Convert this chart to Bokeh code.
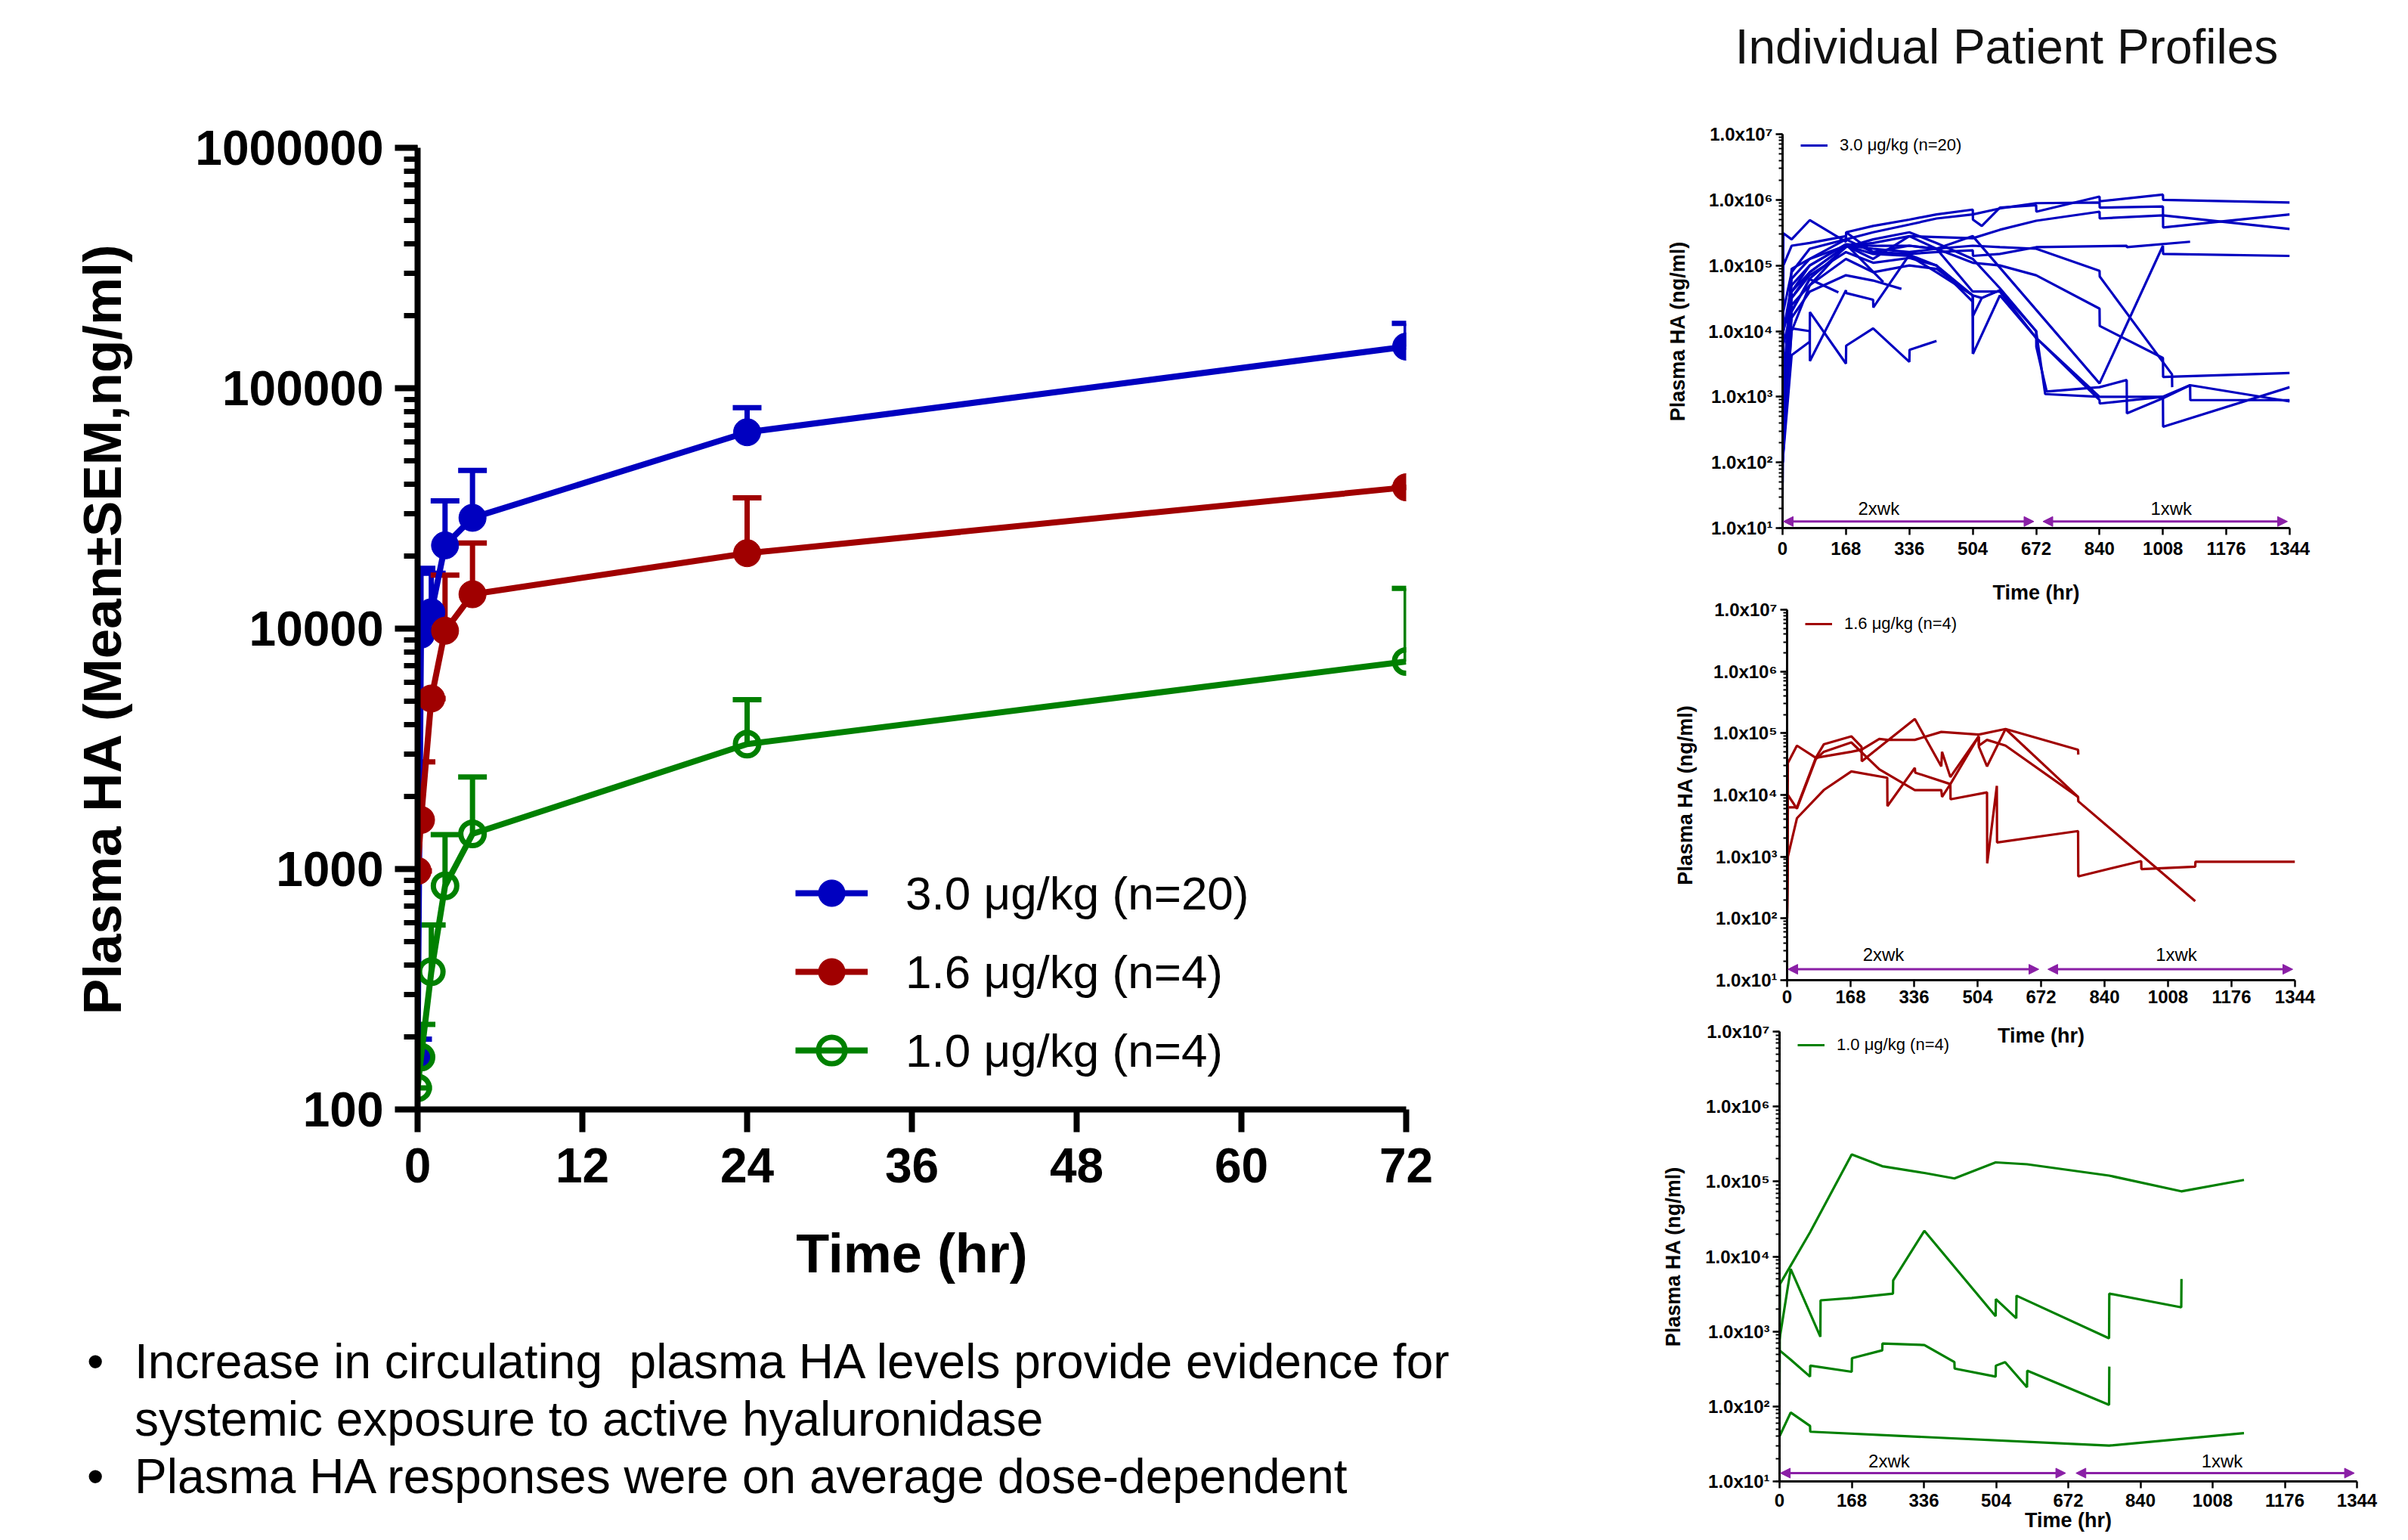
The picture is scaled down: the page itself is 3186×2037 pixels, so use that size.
from bokeh.plotting import figure
from bokeh.models import (ColumnDataSource, Legend, LegendItem, FixedTicker,
                          CustomJSTickFormatter, Arrow, NormalHead, Div)
from bokeh.layouts import row, column
from bokeh.embed import file_html
from bokeh.resources import INLINE
from bokeh.core.properties import value

# ---------------- main chart data ----------------
time_hr = [0, 0.25, 1, 2, 4, 24, 72]
series_labels = ["3.0 μg/kg (n=20)", "1.6 μg/kg (n=4)", "1.0 μg/kg (n=4)"]
mean_3_0 = [167, 9440, 11700, 22200, 28900, 65600, 149000]
upper_3_0 = [196, 17800, 17000, 34000, 45500, 83000, 186000]
mean_1_6 = [982, 1600, 5120, 9800, 13900, 20600, 38700]
upper_1_6 = [982, 2790, 5120, 16700, 22700, 35000, 38700]
mean_1_0 = [123, 165, 374, 851, 1400, 3310, 7300]
upper_1_0 = [123, 226, 585, 1390, 2415, 5060, 14700]
main_xticks = [0, 12, 24, 36, 48, 60, 72]
main_yticks = [100, 1000, 10000, 100000, 1000000]
main_ytick_labels = ["100", "1000", "10000", "100000", "1000000"]

bullet_lines = [
    ["Increase in circulating\u00a0 plasma HA levels provide evidence for",
     "systemic exposure to active hyaluronidase"],
    ["Plasma HA responses were on average dose-dependent"],
]
panel_title = "Individual Patient Profiles"

# ---------------- individual patient profiles ----------------
prof_xticks = [0, 168, 336, 504, 672, 840, 1008, 1176, 1344]
prof_yticks = [1e1, 1e2, 1e3, 1e4, 1e5, 1e6, 1e7]
prof_ytick_labels = ["1.0x10¹", "1.0x10²", "1.0x10³", "1.0x10⁴", "1.0x10⁵", "1.0x10⁶", "1.0x10⁷"]
regimen_labels = ["2xwk", "1xwk"]
regimen_start = [2, 690]
regimen_end = [666, 1338]
regimen_text_x = [255, 1030]

prof30_hours = [
    [0, 2, 24, 72, 168, 168.5, 240, 336, 408, 504, 504.5, 528, 576, 672, 672.5, 840, 840.5, 1008, 1008.5, 1344],
    [0, 2, 24, 72, 168, 240, 336, 408, 504, 576, 672, 840, 840.5, 1008, 1008.5, 1344],
    [0, 24, 72, 168, 240, 336, 504, 576, 672, 840, 840.5, 1008, 1344],
    [0, 2, 24, 72, 168, 168.5, 240, 336, 408, 504, 504.5, 576, 672, 912, 912.5, 1080],
    [0, 24, 72, 168, 240, 336, 408, 504, 840, 1008, 1008.5, 1344],
    [0, 2, 24, 72, 168, 240, 336, 408, 504, 576, 672, 840, 840.5, 1032, 1032.5],
    [0, 24, 72, 168, 240, 336, 408, 504, 576, 672, 840, 840.5, 1008, 1008.5, 1344],
    [0, 24, 72, 168, 240, 336, 408, 504, 504.5, 528, 576, 672, 672.5, 700, 840, 912, 912.5, 1008, 1080, 1080.5, 1344],
    [0, 24, 72, 168, 240, 336, 408, 504, 576, 672, 840, 840.5, 1008, 1008.5, 1344],
    [0, 24, 72, 168, 240, 336, 408, 504, 504.5, 576, 672, 840, 1008, 1080, 1344],
    [0, 24, 72, 168, 240, 315],
    [0, 24, 72, 148],
    [0, 24, 72, 168, 267],
    [0, 24, 72, 72.5, 168, 168.5, 240, 336, 336.5, 408],
    [0, 24, 72, 72.5, 168, 168.5, 240, 240.5, 336, 408, 504, 528, 576],
    [0, 2, 24, 72, 168, 240, 336, 408, 504, 504.5],
    [0, 2, 24, 72, 168, 240, 336, 408, 504, 576, 672, 696, 840],
]
prof30_values = [
    [200, 1.0e5, 2.0e5, 2.2e5, 2.8e5, 3.2e5, 4.0e5, 5.0e5, 6.0e5, 7.1e5, 5.0e5, 4.0e5, 7.6e5, 8.3e5, 6.6e5, 1.12e6, 9.5e5, 1.2e6, 1.0e6, 9.1e5],
    [100, 2.0e4, 7.9e4, 1.8e5, 2.5e5, 3.2e5, 4.2e5, 5.2e5, 6.0e5, 7.4e5, 8.9e5, 9.1e5, 7.6e5, 7.9e5, 3.8e5, 6.0e5],
    [1.0e3, 8.9e4, 1.26e5, 2.0e5, 2.2e5, 2.8e5, 2.6e5, 3.5e5, 4.8e5, 6.6e5, 5.2e5, 5.8e5, 3.6e5],
    [320, 3.1e5, 2.5e5, 4.9e5, 2.3e5, 3.2e5, 1.6e5, 1.5e5, 1.6e5, 1.7e5, 1.4e5, 1.5e5, 1.9e5, 2.0e5, 1.9e5, 2.3e5],
    [160, 4.0e4, 7.9e4, 2.0e5, 1.8e5, 1.6e5, 1.8e5, 2.8e5, 1.6e3, 2.0e5, 1.5e5, 1.4e5],
    [100, 1.0e4, 5.0e4, 1.0e5, 2.1e5, 2.0e5, 2.0e5, 1.8e5, 2.0e5, 1.9e5, 1.8e5, 8.3e4, 6.8e4, 2.2e3, 1.4e3],
    [630, 6.3e4, 1.26e5, 2.5e5, 1.6e5, 2.0e5, 1.8e5, 1.1e5, 1.0e5, 7.1e4, 2.2e4, 1.2e4, 3.9e3, 2.0e3, 2.3e3],
    [100, 2.5e4, 5.0e4, 2.0e5, 1.5e5, 1.4e5, 7.9e4, 3.5e4, 1.7e4, 3.2e4, 4.2e4, 1.0e4, 5.8e3, 1.2e3, 1.4e3, 1.8e3, 560, 950, 1.5e3, 890, 890],
    [250, 3.2e4, 7.9e4, 2.0e5, 1.26e5, 2.8e5, 1.8e5, 4.0e4, 4.0e4, 7.9e3, 890, 790, 1.0e3, 350, 1.4e3],
    [130, 1.0e4, 5.0e4, 1.26e5, 7.9e4, 1.0e5, 8.9e4, 3.5e4, 4.5e3, 3.5e4, 7.9e3, 1.0e3, 1.0e3, 1.5e3, 850],
    [200, 1.6e4, 4.0e4, 7.1e4, 5.9e4, 4.4e4],
    [100, 2.0e4, 6.2e4, 3.9e4],
    [320, 4.0e4, 1.0e5, 2.1e5, 5.6e4],
    [100, 4.3e3, 6.9e3, 1.95e4, 3.2e3, 6.0e3, 1.1e4, 3.4e3, 5.2e3, 7.1e3],
    [100, 1.1e4, 1.0e4, 3.5e3, 4.2e4, 3.8e4, 3.0e4, 2.3e4, 1.45e5, 1.0e5, 3.5e4, 3.2e4, 4.2e4],
    [50, 1.0e4, 3.2e4, 7.1e4, 1.6e5, 1.1e5, 1.3e5, 1.0e5, 2.8e4, 4.5e3],
    [32, 6.3e3, 2.0e4, 6.3e4, 1.9e5, 2.5e5, 3.2e5, 2.2e5, 1.26e5, 4.5e4, 1.0e4, 1.1e3, 1.0e3],
]

prof16_hours = [
    [0, 2, 26, 76, 170, 197, 244, 265, 338, 408, 507, 578, 770, 770.5],
    [0, 2, 26, 76, 97, 170, 197, 197.5, 338, 408, 410, 432, 507, 507.5, 529, 578, 770, 770.5, 1080],
    [0, 2, 26, 97, 170, 265, 265.5, 338, 339, 432, 432.5, 529, 529.5, 555, 555.5, 770, 770.5, 937, 937.5, 1080, 1080.5, 1344],
    [0, 2, 26, 76, 97, 170, 244, 338, 408, 410, 432, 507, 507.5, 529, 578, 770],
]
prof16_values = [
    [120, 3.3e4, 6.3e4, 4.0e4, 5.0e4, 5.4e4, 8.1e4, 7.8e4, 7.8e4, 1.05e5, 9.5e4, 1.17e5, 5.4e4, 4.5e4],
    [100, 6.3e3, 6.3e3, 4.0e4, 6.6e4, 8.9e4, 6.0e4, 3.5e4, 1.7e5, 2.9e4, 5.0e4, 1.95e4, 8.9e4, 6.0e4, 2.9e4, 1.17e5, 9.3e3, 7.9e3, 190],
    [100, 1.0e3, 4.2e3, 1.2e4, 2.4e4, 1.9e4, 6.6e3, 2.75e4, 2.3e4, 1.5e4, 8.5e3, 1.1e4, 780, 1.4e4, 1.7e3, 2.6e3, 480, 850, 630, 690, 830, 830],
    [200, 1.0e4, 6.0e3, 3.8e4, 5.0e4, 7.1e4, 2.6e4, 1.2e4, 1.2e4, 9.3e3, 1.5e4, 8.9e4, 6.3e4, 7.8e4, 6.3e4, 9.3e3],
]

prof10_hours = [
    [0, 1, 71, 168, 239, 337, 407, 503, 576, 767, 935, 1081],
    [0, 26, 95, 95.5, 168, 264, 264.5, 337, 503, 503.5, 551, 551.5, 767, 767.5, 935, 935.5],
    [0, 26, 71, 71.5, 168, 168.5, 239, 239.5, 337, 407, 407.5, 503, 503.5, 525, 576, 576.5, 767, 767.5],
    [0, 26, 71, 71.5, 767, 1081],
]
prof10_values = [
    [100, 4.3e3, 2.1e4, 2.3e5, 1.6e5, 1.3e5, 1.1e5, 1.8e5, 1.7e5, 1.2e5, 7.4e4, 1.05e5],
    [790, 6.8e3, 850, 2.6e3, 2.8e3, 3.2e3, 4.8e3, 2.2e4, 1.6e3, 2.7e3, 1.5e3, 3.0e3, 810, 3.2e3, 2.1e3, 5.0e3],
    [560, 420, 250, 350, 290, 440, 560, 690, 660, 390, 320, 250, 350, 390, 180, 300, 105, 340],
    [40, 83, 55, 46, 30, 44],
]

# ---------------- styling ----------------
FONT = "Liberation Sans"
BLUE = "#0000C0"
RED = "#A00000"
GREEN = "#008000"
PURPLE = "#8A1FA6"

fmt_code = """
const i = tvals.findIndex((t) => Math.abs(Math.log10(t) - Math.log10(tick)) < 1e-6);
return i >= 0 ? tlabels[i] : "";
"""

# ---------------- main figure ----------------
p = figure(width=2130, height=1700, x_range=(0, 72), y_range=(100, 1e6), y_axis_type="log",
           output_backend="svg", toolbar_location=None,
           min_border_left=552, min_border_right=270, min_border_top=195, min_border_bottom=227)
p.xgrid.visible = False
p.ygrid.visible = False
p.outline_line_color = None
p.background_fill_color = "white"

series = [
    (mean_3_0, upper_3_0, BLUE, True),
    (mean_1_6, upper_1_6, RED, True),
    (mean_1_0, upper_1_0, GREEN, False),
]
legend_items = []
for (mean, upper, col, filled), lab in zip(series, series_labels):
    p.segment(x0=time_hr, y0=mean, x1=time_hr, y1=upper, line_color=col, line_width=7)
    p.scatter(x=time_hr, y=upper, marker="dash", size=38, line_color=col, line_width=7)
for (mean, upper, col, filled), lab in zip(series, series_labels):
    lr = p.line(x=time_hr, y=mean, line_color=col, line_width=8)
    if filled:
        sr = p.scatter(x=time_hr, y=mean, marker="circle", size=36, fill_color=col, line_color=col)
    else:
        sr = p.scatter(x=time_hr, y=mean, marker="circle", size=31, fill_color=None,
                       line_color=col, line_width=7)
    legend_items.append(LegendItem(label=lab, renderers=[lr, sr]))

leg = Legend(items=legend_items, location=(500, 34), glyph_width=96, glyph_height=88,
             label_height=88, spacing=16, padding=0, margin=0, border_line_color=None,
             background_fill_alpha=0, label_text_font=FONT, label_text_font_size="62px",
             label_text_color="black", label_standoff=50)
p.add_layout(leg)

xa = p.xaxis[0]
ya = p.yaxis[0]
xa.ticker = FixedTicker(ticks=main_xticks)
ya.ticker.num_minor_ticks = 10
ya.formatter = CustomJSTickFormatter(args=dict(tvals=main_yticks, tlabels=main_ytick_labels), code=fmt_code)
for ax in (xa, ya):
    ax.axis_line_width = 8
    ax.axis_line_color = "black"
    ax.major_tick_line_width = 8
    ax.minor_tick_line_width = 7
    ax.major_tick_out = 30
    ax.major_tick_in = 0
    ax.minor_tick_out = 18
    ax.minor_tick_in = 0
    ax.major_label_text_font = FONT
    ax.major_label_text_font_style = "bold"
    ax.major_label_text_font_size = "64px"
    ax.major_label_text_color = "black"
    ax.axis_label_text_font = FONT
    ax.axis_label_text_font_style = "bold"
    ax.axis_label_text_color = "black"
xa.minor_tick_line_color = None
xa.major_label_standoff = 21
xa.axis_label = "Time (hr)"
xa.axis_label_text_font_size = "72px"
xa.axis_label_standoff = 51
ya.major_label_standoff = 15
ya.axis_label = "Plasma HA (Mean±SEM,ng/ml)"
ya.axis_label_text_font_size = "71px"
ya.axis_label_standoff = 80

# ---------------- bullets ----------------
html = '<div style="padding-top:58px;font-family:\'Liberation Sans\';font-size:64px;line-height:76px;color:#000;">'
for lines in bullet_lines:
    html += ('<div style="position:relative;padding-left:173px;white-space:nowrap;">'
             '<span style="position:absolute;left:110px;">•</span>' + "<br>".join(lines) + "</div>")
html += "</div>"
bullets = Div(text=html, width=2130, height=321)

# ---------------- title ----------------
title_div = Div(text='<div style="width:1020px;text-align:center;padding-top:25px;font-family:\'Liberation Sans\';'
                     'font-size:64px;line-height:64px;color:#111;">' + panel_title + '</div>',
                width=1040, height=110)


def make_panel(height, b_left, b_right, b_top, b_bottom, hours, values, col, label, legend_y,
               arrow_y, text_y, ylab_standoff, xtick_standoff, xlab_standoff, overlap):
    q = figure(width=1040, height=height, x_range=(0, 1344), y_range=(10, 1e7), y_axis_type="log",
               output_backend="svg", toolbar_location=None,
               min_border_left=b_left, min_border_right=b_right, min_border_top=b_top,
               min_border_bottom=b_bottom, margin=(-overlap, 0, 0, 0))
    q.xgrid.visible = False
    q.ygrid.visible = False
    q.outline_line_color = None
    q.border_fill_alpha = 0
    q.background_fill_alpha = 0
    ml = q.multi_line(xs=hours, ys=values, line_color=col, line_width=3.2)
    q.add_layout(Legend(items=[LegendItem(label=label, renderers=[ml])], location=(24, legend_y),
                        glyph_width=36, glyph_height=20, label_height=20, padding=0, margin=0,
                        border_line_color=None, background_fill_alpha=0, label_text_font=FONT,
                        label_text_font_size="22px", label_text_color="black", label_standoff=16))
    src = ColumnDataSource(dict(x0=regimen_start, x1=regimen_end, y=[arrow_y, arrow_y]))
    q.add_layout(Arrow(source=src, x_start="x0", y_start="y", x_end="x1", y_end="y",
                       line_color=PURPLE, line_width=3,
                       start=NormalHead(size=13, fill_color=PURPLE, line_color=PURPLE),
                       end=NormalHead(size=13, fill_color=PURPLE, line_color=PURPLE)))
    q.text(x=regimen_text_x, y=[text_y, text_y], text=regimen_labels, text_align="center",
           text_baseline="middle", text_font=value(FONT), text_font_size="24px", text_color="black")
    qx = q.xaxis[0]
    qy = q.yaxis[0]
    qx.ticker = FixedTicker(ticks=prof_xticks)
    qy.ticker.num_minor_ticks = 10
    qy.formatter = CustomJSTickFormatter(args=dict(tvals=prof_yticks, tlabels=prof_ytick_labels), code=fmt_code)
    for ax in (qx, qy):
        ax.axis_line_width = 3
        ax.major_tick_line_width = 2.5
        ax.minor_tick_line_width = 2
        ax.major_tick_out = 9
        ax.major_tick_in = 0
        ax.minor_tick_out = 5
        ax.minor_tick_in = 0
        ax.major_label_text_font = FONT
        ax.major_label_text_font_style = "bold"
        ax.major_label_text_font_size = "24px"
        ax.major_label_text_color = "black"
        ax.axis_label_text_font = FONT
        ax.axis_label_text_font_style = "bold"
        ax.axis_label_text_font_size = "27px"
        ax.axis_label_text_color = "black"
    qx.minor_tick_line_color = None
    qx.major_label_standoff = xtick_standoff
    qy.major_label_standoff = 4
    qy.axis_label = "Plasma HA (ng/ml)"
    qy.axis_label_standoff = ylab_standoff
    qx.axis_label = "Time (hr)"
    qx.axis_label_standoff = xlab_standoff
    return q


p1 = make_panel(688, 218, 151, 57, 110, prof30_hours, prof30_values, BLUE, series_labels[0],
                493, 12.6, 20, 22, 9, 32, 0)
p2 = make_panel(606, 224, 144, 24, 92, prof16_hours, prof16_values, RED, series_labels[1],
                458, 15, 26, 18, 4, 25, 26)
p3 = make_panel(689, 214, 62, 22, 72, prof10_hours, prof10_values, GREEN, series_labels[2],
                564, 12.9, 18.6, 24, 7, 0, 46)

layout = row(column(p, bullets), column(title_div, row(p1), row(p2), row(p3)))

with open("out.html", "w") as f:
    f.write(file_html(layout, INLINE))
